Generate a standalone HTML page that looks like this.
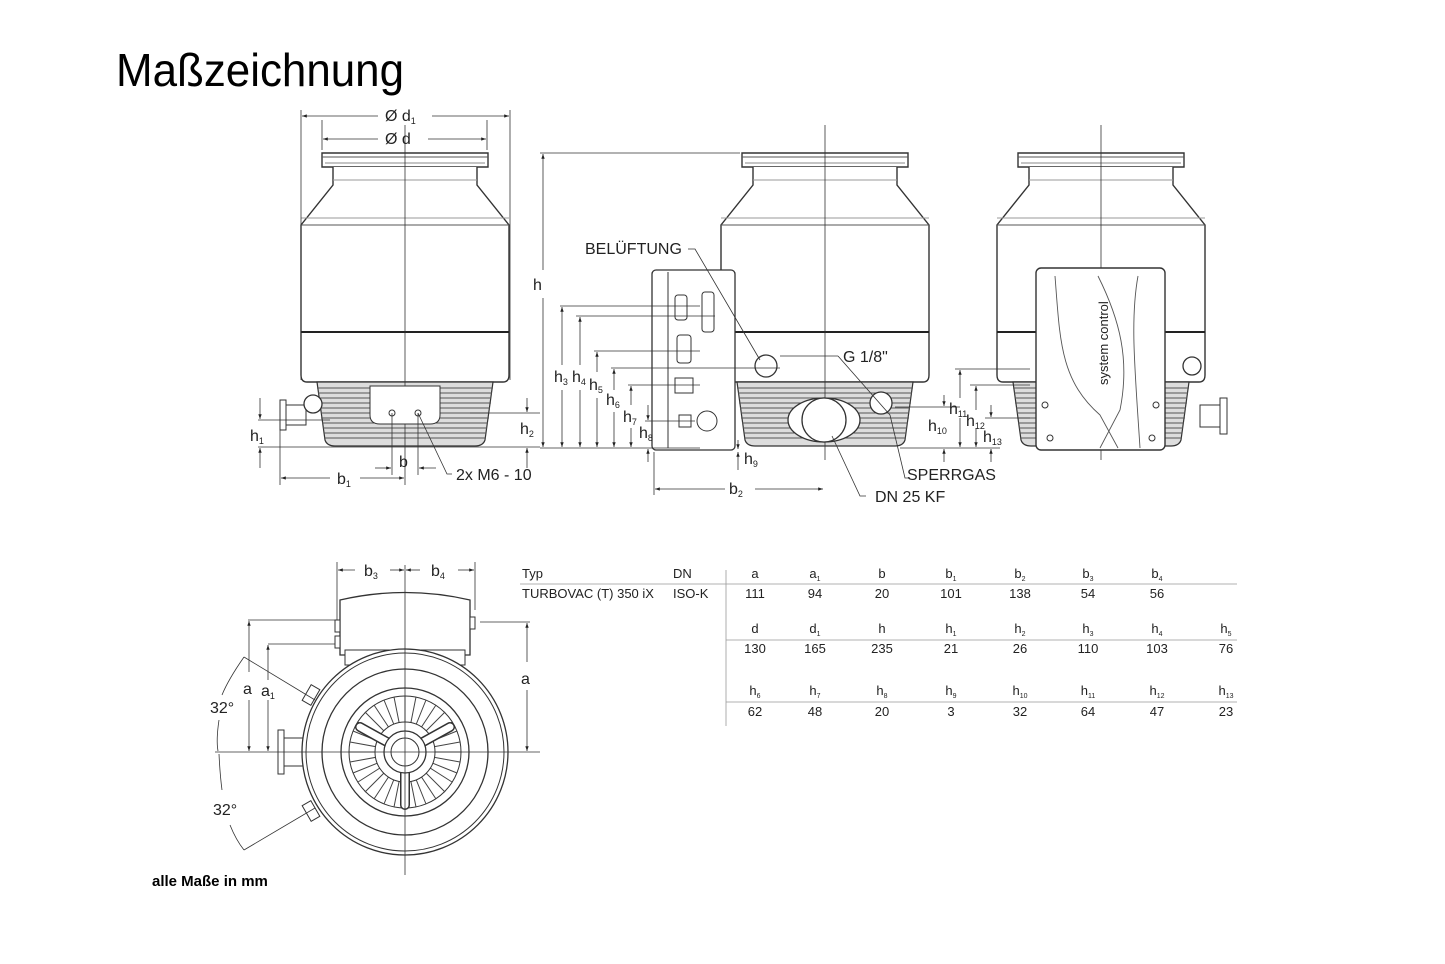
<!DOCTYPE html>
<html><head><meta charset="utf-8"><style>
html,body{margin:0;padding:0;background:#fff}
svg{display:block}
text{font-family:"Liberation Sans",sans-serif;fill:#222}
.t{font-size:13px;fill:#555}
</style></head><body>
<svg width="1445" height="964" viewBox="0 0 1445 964" xmlns="http://www.w3.org/2000/svg">
<defs>
<marker id="ar" viewBox="0 0 10 10" refX="10" refY="5" markerWidth="8" markerHeight="6" orient="auto-start-reverse"><path d="M0,1.5 L10,5 L0,8.5z" fill="#222"/></marker>
<g id="pump">
  <path d="M-83,153 H83 V167 H-83Z" fill="#fff" stroke="#333" stroke-width="1.4"/>
  <line x1="-83" y1="157" x2="83" y2="157" stroke="#555"/>
  <line x1="-80" y1="163" x2="80" y2="163" stroke="#888"/>
  <path d="M-72,167 V185 L-104,225 V375 Q-104,382 -98,382 H98 Q104,382 104,375 V225 L72,185 V167" fill="#fff" stroke="#333" stroke-width="1.4"/>
  <line x1="-72" y1="180" x2="72" y2="180" stroke="#999"/>
  <line x1="-104" y1="218" x2="104" y2="218" stroke="#999"/>
  <line x1="-104" y1="225" x2="104" y2="225" stroke="#555"/>
  <line x1="-104" y1="332" x2="104" y2="332" stroke="#222" stroke-width="2"/>
  <path d="M-88,382 L-80,440 Q-78,446 -70,446 H70 Q78,446 80,440 L88,382Z" fill="#ddd" stroke="#333" stroke-width="1.2"/>
  <g stroke="#555" stroke-width="1">
    <line x1="-88" y1="388" x2="88" y2="388"/><line x1="-87" y1="393" x2="87" y2="393"/>
    <line x1="-86" y1="398" x2="86" y2="398"/><line x1="-86" y1="403" x2="86" y2="403"/>
    <line x1="-85" y1="408" x2="85" y2="408"/><line x1="-84" y1="413" x2="84" y2="413"/>
    <line x1="-84" y1="418" x2="84" y2="418"/><line x1="-83" y1="423" x2="83" y2="423"/>
    <line x1="-82" y1="428" x2="82" y2="428"/><line x1="-81" y1="433" x2="81" y2="433"/>
    <line x1="-81" y1="438" x2="81" y2="438"/>
  </g>
  <line x1="0" y1="125" x2="0" y2="460" stroke="#333" stroke-width="0.8"/>
</g>
</defs>

<text x="116" y="86" font-size="46" fill="#000" style="fill:#000" textLength="288" lengthAdjust="spacingAndGlyphs">Maßzeichnung</text>

<!-- LEFT PUMP -->
<use href="#pump" transform="translate(405,0)"/>
<path d="M370,386 H440 V415 Q440,424 430,424 H380 Q370,424 370,415Z" fill="#fff" stroke="#333"/>
<circle cx="392" cy="413" r="3" fill="none" stroke="#333"/><circle cx="418" cy="413" r="3" fill="none" stroke="#333"/>
<path d="M280,400 h6 v30 h-6z M286,405 h20 v20 h-20z" fill="#fff" stroke="#333"/>
<circle cx="313" cy="404" r="9" fill="#fff" stroke="#333" stroke-width="1.3"/>
<g stroke="#333" stroke-width="0.8" fill="none">
<line x1="301" y1="110" x2="301" y2="380"/><line x1="510" y1="110" x2="510" y2="380"/>
<line x1="322" y1="120" x2="322" y2="150"/><line x1="487" y1="120" x2="487" y2="150"/>
<line x1="302" y1="116" x2="378" y2="116" marker-start="url(#ar)"/><line x1="432" y1="116" x2="509" y2="116" marker-end="url(#ar)"/>
<line x1="323" y1="139" x2="378" y2="139" marker-start="url(#ar)"/><line x1="428" y1="139" x2="486" y2="139" marker-end="url(#ar)"/>
<line x1="258" y1="420" x2="330" y2="420"/><line x1="258" y1="447" x2="540" y2="447"/>
<line x1="260" y1="398" x2="260" y2="419" marker-end="url(#ar)"/><line x1="260" y1="468" x2="260" y2="448" marker-end="url(#ar)"/>
<line x1="470" y1="413" x2="540" y2="413"/>
<line x1="527" y1="398" x2="527" y2="412" marker-end="url(#ar)"/><line x1="527" y1="468" x2="527" y2="448" marker-end="url(#ar)"/>
<line x1="392" y1="413" x2="392" y2="475"/><line x1="418" y1="413" x2="418" y2="475"/>
<line x1="375" y1="468" x2="391" y2="468" marker-end="url(#ar)"/><line x1="436" y1="468" x2="419" y2="468" marker-end="url(#ar)"/>
<line x1="280" y1="430" x2="280" y2="485"/><line x1="405" y1="460" x2="405" y2="485"/>
<line x1="330" y1="478" x2="281" y2="478" marker-end="url(#ar)"/><line x1="360" y1="478" x2="404" y2="478" marker-end="url(#ar)"/>
<path d="M418,413 L447,474 H452"/>
</g>
<text x="385" y="121" font-size="16">Ø d<tspan font-size="9" dy="3">1</tspan></text>
<text x="385" y="144" font-size="16">Ø d</text>
<text x="250" y="441" font-size="16">h<tspan font-size="9" dy="3">1</tspan></text>
<text x="520" y="434" font-size="16">h<tspan font-size="9" dy="3">2</tspan></text>
<text x="399" y="467" font-size="16">b</text>
<text x="337" y="484" font-size="16">b<tspan font-size="9" dy="3">1</tspan></text>
<text x="456" y="480" font-size="16">2x M6 - 10</text>

<!-- MIDDLE PUMP -->
<use href="#pump" transform="translate(825,0)"/>
<circle cx="766" cy="366" r="11" fill="#fff" stroke="#333" stroke-width="1.3"/>
<circle cx="881" cy="403" r="11" fill="#fff" stroke="#333" stroke-width="1.3"/>
<ellipse cx="824" cy="420" rx="36" ry="22" fill="#fff" stroke="#333" stroke-width="1.3"/>
<circle cx="824" cy="420" r="22" fill="#fff" stroke="#333" stroke-width="1.3"/>
<rect x="652" y="270" width="83" height="180" rx="4" fill="#fff" stroke="#333" stroke-width="1.3"/>
<line x1="668" y1="272" x2="668" y2="448" stroke="#333"/>
<rect x="675" y="295" width="12" height="25" rx="3" fill="#fff" stroke="#333"/>
<rect x="702" y="292" width="12" height="40" rx="3" fill="#fff" stroke="#333"/>
<rect x="677" y="335" width="14" height="28" rx="3" fill="#fff" stroke="#333"/>
<rect x="675" y="378" width="18" height="15" fill="#fff" stroke="#333"/>
<circle cx="707" cy="421" r="10" fill="#fff" stroke="#333"/>
<rect x="679" y="415" width="12" height="12" fill="#fff" stroke="#333"/>
<g stroke="#333" stroke-width="0.8" fill="none">
<line x1="540" y1="153" x2="740" y2="153"/>
<line x1="543" y1="154" x2="543" y2="270" marker-start="url(#ar)"/><line x1="543" y1="298" x2="543" y2="447" marker-end="url(#ar)"/>
<line x1="540" y1="448" x2="700" y2="448"/>
<line x1="560" y1="306" x2="700" y2="306"/><line x1="576" y1="316" x2="715" y2="316"/>
<line x1="594" y1="351" x2="700" y2="351"/><line x1="611" y1="368" x2="780" y2="368"/>
<line x1="628" y1="385" x2="700" y2="385"/><line x1="645" y1="421" x2="695" y2="421"/>
<line x1="562" y1="307" x2="562" y2="365" marker-start="url(#ar)"/><line x1="562" y1="390" x2="562" y2="447" marker-end="url(#ar)"/>
<line x1="580" y1="317" x2="580" y2="365" marker-start="url(#ar)"/><line x1="580" y1="390" x2="580" y2="447" marker-end="url(#ar)"/>
<line x1="597" y1="352" x2="597" y2="372" marker-start="url(#ar)"/><line x1="597" y1="398" x2="597" y2="447" marker-end="url(#ar)"/>
<line x1="614" y1="369" x2="614" y2="390" marker-start="url(#ar)"/><line x1="614" y1="412" x2="614" y2="447" marker-end="url(#ar)"/>
<line x1="631" y1="386" x2="631" y2="405" marker-start="url(#ar)"/><line x1="631" y1="428" x2="631" y2="447" marker-end="url(#ar)"/>
<line x1="648" y1="405" x2="648" y2="420" marker-end="url(#ar)"/><line x1="648" y1="462" x2="648" y2="449" marker-end="url(#ar)"/>
<line x1="654" y1="452" x2="654" y2="495"/>
<line x1="738" y1="440" x2="738" y2="449" marker-end="url(#ar)"/><line x1="738" y1="470" x2="738" y2="452" marker-end="url(#ar)"/>
<line x1="655" y1="489" x2="725" y2="489" marker-start="url(#ar)"/><line x1="755" y1="489" x2="823" y2="489" marker-end="url(#ar)"/>
<path d="M688,249 H695 L760,360"/>
<path d="M838,356 H780 M838,356 L890,415 L905,478 H910"/>
<path d="M832,436 L860,496 H866"/>
<line x1="895" y1="407" x2="960" y2="407"/>
<line x1="944" y1="395" x2="944" y2="406" marker-end="url(#ar)"/><line x1="944" y1="462" x2="944" y2="449" marker-end="url(#ar)"/>
<line x1="900" y1="448" x2="1000" y2="448"/>
</g>
<text x="585" y="254" font-size="16">BELÜFTUNG</text>
<text x="533" y="290" font-size="16">h</text>
<text x="554" y="382" font-size="16">h<tspan font-size="9" dy="3">3</tspan></text>
<text x="572" y="382" font-size="16">h<tspan font-size="9" dy="3">4</tspan></text>
<text x="589" y="390" font-size="16">h<tspan font-size="9" dy="3">5</tspan></text>
<text x="606" y="405" font-size="16">h<tspan font-size="9" dy="3">6</tspan></text>
<text x="623" y="422" font-size="16">h<tspan font-size="9" dy="3">7</tspan></text>
<text x="639" y="438" font-size="16">h<tspan font-size="9" dy="3">8</tspan></text>
<text x="744" y="464" font-size="16">h<tspan font-size="9" dy="3">9</tspan></text>
<text x="729" y="494" font-size="16">b<tspan font-size="9" dy="3">2</tspan></text>
<text x="843" y="362" font-size="16">G 1/8"</text>
<text x="928" y="431" font-size="16">h<tspan font-size="9" dy="3">10</tspan></text>
<text x="907" y="480" font-size="16">SPERRGAS</text>
<text x="875" y="502" font-size="16">DN 25 KF</text>

<!-- RIGHT PUMP -->
<use href="#pump" transform="translate(1101,0)"/>
<circle cx="1192" cy="366" r="9" fill="#fff" stroke="#333" stroke-width="1.3"/>
<path d="M1220,398 h7 v36 h-7z M1200,405 h20 v22 h-20z" fill="#fff" stroke="#333"/>
<rect x="1036" y="268" width="129" height="182" rx="5" fill="#fff" stroke="#333" stroke-width="1.4"/>
<g stroke="#555" fill="none" stroke-width="0.9">
<path d="M1055,276 C1060,340 1060,380 1100,415 L1118,448"/>
<path d="M1098,276 C1120,320 1130,360 1120,410 L1100,448"/>
<path d="M1138,276 C1130,320 1135,370 1140,448"/>
</g>
<text transform="translate(1108,385) rotate(-90)" font-size="13">system control</text>
<g fill="none" stroke="#333"><circle cx="1045" cy="405" r="3"/><circle cx="1156" cy="405" r="3"/><circle cx="1050" cy="438" r="3"/><circle cx="1152" cy="438" r="3"/></g>
<g stroke="#333" stroke-width="0.8" fill="none">
<line x1="955" y1="369" x2="1030" y2="369"/><line x1="970" y1="385" x2="1030" y2="385"/><line x1="985" y1="418" x2="1030" y2="418"/>
<line x1="960" y1="370" x2="960" y2="398" marker-start="url(#ar)"/><line x1="960" y1="418" x2="960" y2="447" marker-end="url(#ar)"/>
<line x1="976" y1="386" x2="976" y2="410" marker-start="url(#ar)"/><line x1="976" y1="428" x2="976" y2="447" marker-end="url(#ar)"/>
<line x1="991" y1="405" x2="991" y2="417" marker-end="url(#ar)"/><line x1="991" y1="462" x2="991" y2="449" marker-end="url(#ar)"/>
</g>
<text x="949" y="414" font-size="16">h<tspan font-size="9" dy="3">11</tspan></text>
<text x="966" y="426" font-size="16">h<tspan font-size="9" dy="3">12</tspan></text>
<text x="983" y="442" font-size="16">h<tspan font-size="9" dy="3">13</tspan></text>

<!-- BOTTOM VIEW -->
<g stroke="#333" fill="#fff">
<path d="M340,600 Q405,585 470,600 V655 H340Z" stroke-width="1.3"/>
<rect x="345" y="650" width="120" height="15" stroke-width="1"/>
<rect x="335" y="620" width="5" height="12"/><rect x="335" y="636" width="5" height="12"/><rect x="470" y="617" width="5" height="12"/>
<rect x="278" y="730" width="6" height="44"/><rect x="284" y="738" width="22" height="28"/>
<rect x="306" y="686" width="10" height="18" transform="rotate(30 311 695)"/>
<rect x="306" y="802" width="10" height="18" transform="rotate(-30 311 811)"/>
<circle cx="405" cy="752" r="103" stroke-width="1.3"/>
<circle cx="405" cy="752" r="99" fill="none"/>
<circle cx="405" cy="752" r="83" stroke-width="1.3"/>
<circle cx="405" cy="752" r="64" stroke-width="1.3"/>
<circle cx="405" cy="752" r="56" fill="none"/>
</g>
<g stroke="#444" stroke-width="1" fill="none">
<path d="M405,696 L405,808 M349,752 L461,752 M365,712 L445,792 M445,712 L365,792 M384,700 L426,804 M426,700 L384,804 M353,731 L457,773 M353,773 L457,731 M394,697 L416,807 M416,697 L394,807 M350,742 L460,762 M350,762 L460,742 M374,705 L436,799 M436,705 L374,799 M358,722 L452,782 M358,782 L452,722"/>
</g>
<circle cx="405" cy="752" r="30" fill="#fff" stroke="#333"/>
<path d="M405,752 L360,727 M405,752 L450,727 M405,752 L405,805" stroke="#333" stroke-width="10" stroke-linecap="round" fill="none"/>
<path d="M405,752 L360,727 M405,752 L450,727 M405,752 L405,805" stroke="#fff" stroke-width="7" stroke-linecap="round" fill="none"/>
<circle cx="405" cy="752" r="21" fill="#fff" stroke="#333" stroke-width="1.3"/>
<circle cx="405" cy="752" r="14" fill="#fff" stroke="#333"/>
<g stroke="#333" stroke-width="0.8" fill="none">
<line x1="405" y1="565" x2="405" y2="875"/><line x1="215" y1="752" x2="540" y2="752"/>
<line x1="337" y1="562" x2="337" y2="620"/><line x1="475" y1="562" x2="475" y2="610"/>
<line x1="355" y1="570" x2="338" y2="570" marker-end="url(#ar)"/><line x1="390" y1="570" x2="404" y2="570" marker-end="url(#ar)"/>
<line x1="420" y1="570" x2="406" y2="570" marker-end="url(#ar)"/><line x1="458" y1="570" x2="474" y2="570" marker-end="url(#ar)"/>
<line x1="248" y1="620" x2="335" y2="620"/><line x1="268" y1="644" x2="335" y2="644"/><line x1="480" y1="622" x2="530" y2="622"/>
<line x1="249" y1="672" x2="249" y2="621" marker-end="url(#ar)"/><line x1="249" y1="700" x2="249" y2="751" marker-end="url(#ar)"/>
<line x1="268" y1="680" x2="268" y2="645" marker-end="url(#ar)"/><line x1="268" y1="700" x2="268" y2="751" marker-end="url(#ar)"/>
<line x1="527" y1="662" x2="527" y2="623" marker-end="url(#ar)"/><line x1="527" y1="690" x2="527" y2="751" marker-end="url(#ar)"/>
<line x1="244" y1="657" x2="315" y2="700"/><line x1="244" y1="850" x2="315" y2="808"/>
<path d="M244,657 Q228,680 222,695 M219,720 Q216,740 218,751"/>
<path d="M219,754 Q220,775 222,790 M230,825 Q236,840 244,850"/>
</g>
<text x="364" y="576" font-size="16">b<tspan font-size="9" dy="3">3</tspan></text>
<text x="431" y="576" font-size="16">b<tspan font-size="9" dy="3">4</tspan></text>
<text x="243" y="694" font-size="16">a</text>
<text x="261" y="696" font-size="16">a<tspan font-size="9" dy="3">1</tspan></text>
<text x="521" y="684" font-size="16">a</text>
<text x="210" y="713" font-size="16">32°</text>
<text x="213" y="815" font-size="16">32°</text>
<text x="152" y="886" font-size="15" font-weight="bold" style="fill:#000">alle Maße in mm</text>

<!-- TABLE -->
<g class="t" text-anchor="middle">
<text x="522" y="578" text-anchor="start">Typ</text><text x="673" y="578" text-anchor="start">DN</text>
<text x="522" y="598" text-anchor="start">TURBOVAC  (T) 350 iX</text><text x="673" y="598" text-anchor="start">ISO-K</text>
<text x="755" y="578">a</text><text x="815" y="578">a<tspan font-size="7" dy="3">1</tspan></text><text x="882" y="578">b</text><text x="951" y="578">b<tspan font-size="7" dy="3">1</tspan></text><text x="1020" y="578">b<tspan font-size="7" dy="3">2</tspan></text><text x="1088" y="578">b<tspan font-size="7" dy="3">3</tspan></text><text x="1157" y="578">b<tspan font-size="7" dy="3">4</tspan></text>
<text x="755" y="598">111</text><text x="815" y="598">94</text><text x="882" y="598">20</text><text x="951" y="598">101</text><text x="1020" y="598">138</text><text x="1088" y="598">54</text><text x="1157" y="598">56</text>
<text x="755" y="633">d</text><text x="815" y="633">d<tspan font-size="7" dy="3">1</tspan></text><text x="882" y="633">h</text><text x="951" y="633">h<tspan font-size="7" dy="3">1</tspan></text><text x="1020" y="633">h<tspan font-size="7" dy="3">2</tspan></text><text x="1088" y="633">h<tspan font-size="7" dy="3">3</tspan></text><text x="1157" y="633">h<tspan font-size="7" dy="3">4</tspan></text><text x="1226" y="633">h<tspan font-size="7" dy="3">5</tspan></text>
<text x="755" y="653">130</text><text x="815" y="653">165</text><text x="882" y="653">235</text><text x="951" y="653">21</text><text x="1020" y="653">26</text><text x="1088" y="653">110</text><text x="1157" y="653">103</text><text x="1226" y="653">76</text>
<text x="755" y="695">h<tspan font-size="7" dy="3">6</tspan></text><text x="815" y="695">h<tspan font-size="7" dy="3">7</tspan></text><text x="882" y="695">h<tspan font-size="7" dy="3">8</tspan></text><text x="951" y="695">h<tspan font-size="7" dy="3">9</tspan></text><text x="1020" y="695">h<tspan font-size="7" dy="3">10</tspan></text><text x="1088" y="695">h<tspan font-size="7" dy="3">11</tspan></text><text x="1157" y="695">h<tspan font-size="7" dy="3">12</tspan></text><text x="1226" y="695">h<tspan font-size="7" dy="3">13</tspan></text>
<text x="755" y="716">62</text><text x="815" y="716">48</text><text x="882" y="716">20</text><text x="951" y="716">3</text><text x="1020" y="716">32</text><text x="1088" y="716">64</text><text x="1157" y="716">47</text><text x="1226" y="716">23</text>
</g>
<g stroke="#999" stroke-width="0.8">
<line x1="520" y1="584" x2="1237" y2="584"/><line x1="726" y1="640" x2="1237" y2="640"/><line x1="726" y1="702" x2="1237" y2="702"/>
<line x1="726" y1="570" x2="726" y2="726"/>
</g>
</svg>
</body></html>
